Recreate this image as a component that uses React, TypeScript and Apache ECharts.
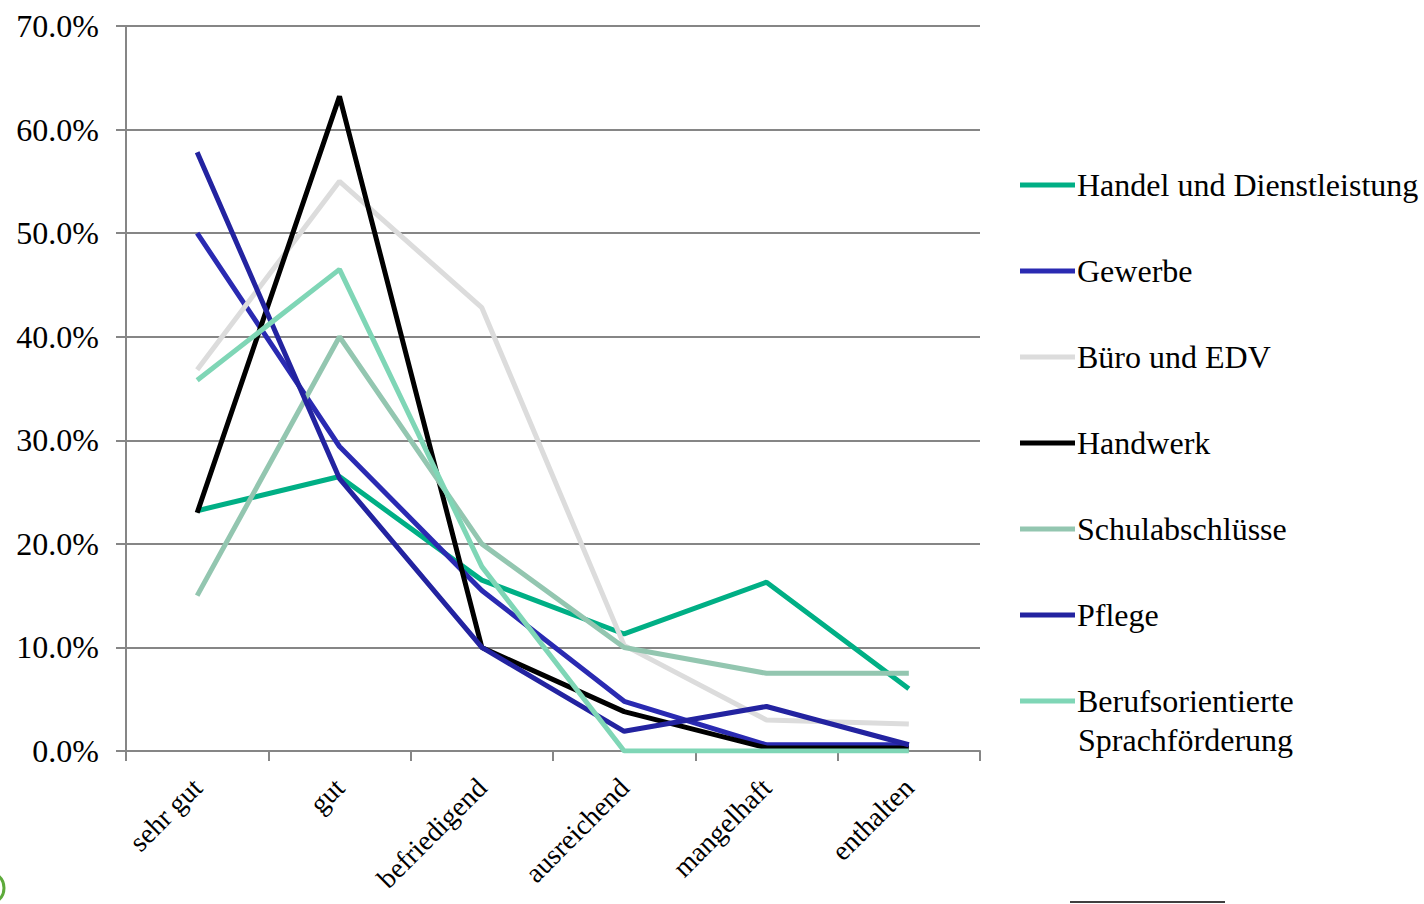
import React, { useEffect, useRef } from "react";
import * as echarts from "echarts";

const categories = ["sehr gut", "gut", "befriedigend", "ausreichend", "mangelhaft", "enthalten"];
const seriesNames = [
  "Handel und Dienstleistung",
  "Gewerbe",
  "Büro und EDV",
  "Handwerk",
  "Schulabschlüsse",
  "Pflege",
  "Berufsorientierte Sprachförderung",
];
const handel = [23.2, 26.5, 16.5, 11.3, 16.3, 6.0];
const gewerbe = [50.0, 29.4, 15.5, 4.8, 0.6, 0.6];
const buero = [36.8, 55.0, 42.8, 10.2, 3.0, 2.6];
const handwerk = [23.0, 63.2, 10.0, 3.8, 0.3, 0.3];
const schul = [15.0, 40.0, 20.0, 10.0, 7.5, 7.5];
const pflege = [57.8, 26.3, 10.0, 1.9, 4.3, 0.6];
const berufs = [35.8, 46.5, 17.8, 0.0, 0.0, 0.0];
const seriesData = [handel, gewerbe, buero, handwerk, schul, pflege, berufs];
const colors = ["#00AF85", "#2A2AB2", "#DCDCDC", "#000000", "#93C6B0", "#2323A0", "#7FD6B6"];
const yTicks = { min: 0, max: 70, interval: 10 };

export default function App() {
  const ref = useRef<HTMLDivElement>(null);
  useEffect(() => {
    document.body.style.margin = "0";
    const chart = echarts.init(ref.current!, null, { renderer: "svg" });
    const font = "Liberation Serif";
    const fs = 32;
    chart.setOption({
      animation: false,
      backgroundColor: "#ffffff",
      grid: { left: 126, right: 1424 - 980, top: 26, bottom: 904 - 751, outerBoundsMode: "none", containLabel: false },
      legend: {
        orient: "vertical",
        left: 1020,
        top: 167,
        padding: 0,
        itemWidth: 55,
        itemHeight: 5,
        itemGap: 50,
        icon: "rect",
        data: seriesNames,
        formatter: (n: string) => (n.split(" ")[0] === "Berufsorientierte" ? "Berufsorientierte" : n),
        textStyle: { fontFamily: font, fontSize: fs, color: "#000", lineHeight: 36, padding: [0, 0, 0, -3] },
      },
      xAxis: {
        type: "category",
        data: categories,
        boundaryGap: true,
        axisLine: { lineStyle: { color: "#868686", width: 2 } },
        axisTick: { show: true, length: 10, lineStyle: { color: "#868686", width: 2 } },
        axisLabel: { rotate: 45, margin: 32, fontFamily: font, fontSize: 28, color: "#000", interval: 0 },
      },
      yAxis: {
        type: "value",
        min: yTicks.min,
        max: yTicks.max,
        interval: yTicks.interval,
        axisLine: { show: true, lineStyle: { color: "#868686", width: 2 } },
        axisTick: { show: true, length: 10, lineStyle: { color: "#868686", width: 2 } },
        splitLine: { lineStyle: { color: "#868686", width: 2 } },
        axisLabel: {
          margin: 27,
          fontFamily: font,
          fontSize: fs,
          color: "#000",
          formatter: (v: number) => v.toFixed(1) + "%",
        },
      },
      series: seriesNames.map((name, i) => ({
        name,
        type: "line",
        data: seriesData[i],
        showSymbol: false,
        symbol: "none",
        color: colors[i],
        lineStyle: { color: colors[i], width: 5 },
      })),
      graphic: [
        {
          type: "text",
          left: 1078,
          top: 724,
          style: { text: "Sprachförderung", fontFamily: font, fontSize: fs, fill: "#000" },
        },
        { type: "circle", shape: { cx: -12, cy: 888, r: 16 }, style: { fill: "none", stroke: "#5DAA3A", lineWidth: 3 } },
        { type: "line", shape: { x1: 1070, y1: 902, x2: 1225, y2: 902 }, style: { stroke: "#000", lineWidth: 1.5 } },
      ],
    });
    return () => chart.dispose();
  }, []);
  return <div ref={ref} style={{ width: 1424, height: 904 }} />;
}
